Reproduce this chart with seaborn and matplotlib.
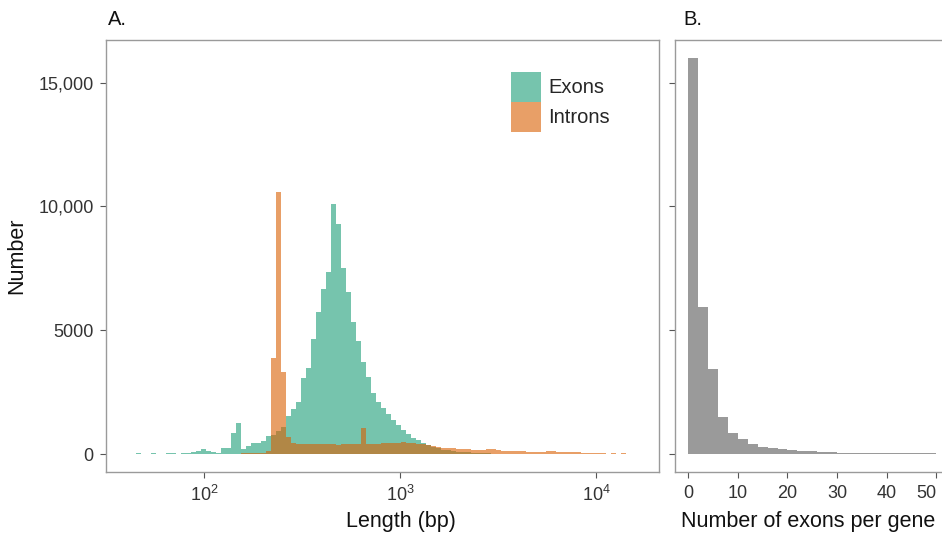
import numpy as np
import matplotlib
matplotlib.use("Agg")
import matplotlib.pyplot as plt
import seaborn as sns
from matplotlib.patches import Patch

# ---------------- data ----------------
# Panel A: histogram on log10(length) bins (start and width in log10 units)
log_bin_start = 1.6531
log_bin_width = 0.02551
exon_counts = [
    40, 0, 0, 40, 0, 0, 40, 45, 0, 45,
    45, 95, 135, 190, 120, 95, 55, 230, 230, 860,
    1270, 190, 330, 430, 460, 525, 710, 780, 930, 1080,
    1550, 1800, 2100, 3070, 3460, 4650, 5750, 6650, 7370, 10100,
    9280, 7530, 6530, 5320, 4580, 3730, 3125, 2480, 2115, 1850,
    1620, 1375, 1160, 970, 790, 640, 560, 450, 360, 290,
    230, 180, 150, 120, 100, 80, 65, 50, 40, 30,
    25, 20, 15, 10, 8, 5, 0, 0, 0, 0,
    0, 0, 0, 0, 0, 0, 0, 0, 0, 0,
    0, 0, 0, 0, 0, 0, 0, 0,
]
intron_counts = [
    0, 0, 0, 0, 0, 0, 0, 0, 0, 0,
    0, 0, 0, 0, 0, 0, 0, 0, 0, 0,
    0, 30, 30, 30, 35, 50, 110, 3890, 10600, 3330,
    700, 430, 400, 390, 410, 400, 390, 420, 410, 390,
    380, 410, 400, 390, 410, 1040, 400, 410, 420, 430,
    440, 450, 460, 470, 450, 440, 420, 390, 360, 330,
    300, 250, 240, 230, 200, 215, 190, 170, 160, 160,
    190, 200, 170, 140, 135, 130, 120, 110, 100, 100,
    95, 95, 110, 115, 100, 80, 75, 70, 65, 60,
    50, 45, 45, 40, 0, 40, 0, 40,
]
series_labels = ["Exons", "Introns"]

# Panel B: exons per gene, bins of width 2
exon_number_bin_width = 2
exon_number_counts = [
    16000, 5950, 3430, 1490, 850, 600, 420, 300, 245, 190,
    160, 135, 110, 80, 75, 55, 55, 50, 40, 40,
    38, 38, 36, 36, 35,
]

y_ticks = [0, 5000, 10000, 15000]
y_tick_labels = ["0", "5000", "10,000", "15,000"]
x_ticks_a = [100, 1000, 10000]
x_tick_labels_a = ["$10^2$", "$10^3$", "$10^4$"]
x_ticks_b = [0, 10, 20, 30, 40, 50]
x_tick_labels_b = ["0", "10", "20", "30", "40", "50"]

# ---------------- style ----------------
sns.set_style("white")
plt.rcParams["font.family"] = ["Liberation Sans", "DejaVu Sans"]
plt.rcParams["mathtext.fontset"] = "custom"
plt.rcParams["mathtext.rm"] = "Liberation Sans"
plt.rcParams["mathtext.it"] = "Liberation Sans"
plt.rcParams["mathtext.default"] = "regular"

green = "#1B9E77"
orange = "#D95F02"
grey_bar = "#9a9a9a"
spine_col = "#9a9a9a"
tick_txt = "#333333"
lab_txt = "#111111"
TICK_FS = 13
LAB_FS = 15.5
TITLE_FS = 14.5
LEG_FS = 14.5

W, H = 942, 539
fig = plt.figure(figsize=(W / 100, H / 100), dpi=100)
axA = fig.add_axes([106 / W, (H - 472) / H, 553 / W, 432 / H])
axB = fig.add_axes([675 / W, (H - 472) / H, 267 / W, 432 / H])

# ---------------- panel A ----------------
n_bins = len(exon_counts)
log_edges = log_bin_start + log_bin_width * np.arange(n_bins + 1)
centers_bp = 10 ** (log_edges[:-1] + log_bin_width / 2)

sns.histplot(x=centers_bp, weights=exon_counts, bins=log_edges.tolist(), log_scale=True,
             element="step", fill=True, color=green, alpha=0.6, linewidth=0, ax=axA)
sns.histplot(x=centers_bp, weights=intron_counts, bins=log_edges.tolist(), log_scale=True,
             element="step", fill=True, color=orange, alpha=0.6, linewidth=0, ax=axA)

axA.set_xlim(10 ** 1.5, 10 ** 4.321)
axA.set_ylim(-727, 16727)
axA.set_xticks(x_ticks_a)
axA.set_xticklabels(x_tick_labels_a)
axA.xaxis.set_minor_locator(matplotlib.ticker.NullLocator())
axA.set_yticks(y_ticks)
axA.set_yticklabels(y_tick_labels)
axA.set_xlabel("Length (bp)", fontsize=LAB_FS, color=lab_txt)
axA.xaxis.set_label_coords((401 - 106) / 553, -(522 - 472) / 432)
axA.xaxis.label.set_va("center")
axA.set_ylabel("Number", fontsize=LAB_FS, color=lab_txt, labelpad=8)

handles = [Patch(facecolor=green, alpha=0.6, edgecolor="none"),
           Patch(facecolor=orange, alpha=0.6, edgecolor="none")]
axA.legend(handles, series_labels, loc="upper left",
           bbox_to_anchor=((510.7 - 106) / 553, (472 - 71.7) / 432),
           frameon=False, fontsize=LEG_FS, handlelength=1.5, handleheight=1.92,
           labelspacing=0, handletextpad=0.37, borderpad=0, borderaxespad=0)

# ---------------- panel B ----------------
b_edges = exon_number_bin_width * np.arange(len(exon_number_counts) + 1)
b_centers = b_edges[:-1] + exon_number_bin_width / 2
sns.histplot(x=b_centers, weights=exon_number_counts, bins=b_edges.tolist(),
             element="step", fill=True, color=grey_bar, alpha=1.0, linewidth=0, ax=axB)
axB.set_xlim(-2.68, 51.15)
axB.set_ylim(-727, 16727)
axB.set_xticks(x_ticks_b)
axB.set_xticklabels(x_tick_labels_b)
axB.set_yticks(y_ticks)
axB.set_yticklabels([])
axB.set_ylabel("")
axB.set_xlabel("Number of exons per gene", fontsize=LAB_FS, color=lab_txt)
axB.xaxis.set_label_coords((808 - 675) / 267, -(522 - 472) / 432)
axB.xaxis.label.set_va("center")
axB.spines["right"].set_visible(False)

# panel titles
fig.text(108 / W, 1 - 25 / H, "A.", fontsize=TITLE_FS, color=lab_txt, ha="left", va="baseline")
fig.text(683 / W, 1 - 25 / H, "B.", fontsize=TITLE_FS, color=lab_txt, ha="left", va="baseline")

for ax in (axA, axB):
    for s in ax.spines.values():
        s.set_color(spine_col)
        s.set_linewidth(1.0)
    ax.tick_params(axis="both", which="major", direction="out", length=4, width=0.8,
                   color="#555555", labelsize=TICK_FS, labelcolor=tick_txt, pad=5,
                   bottom=True, left=True)

# keep the last panel-B tick label inside the figure (right-aligned at its tick)
axB.xaxis.get_major_ticks()[-1].label1.set_horizontalalignment("right")

fig.savefig("out.png", dpi=100)
